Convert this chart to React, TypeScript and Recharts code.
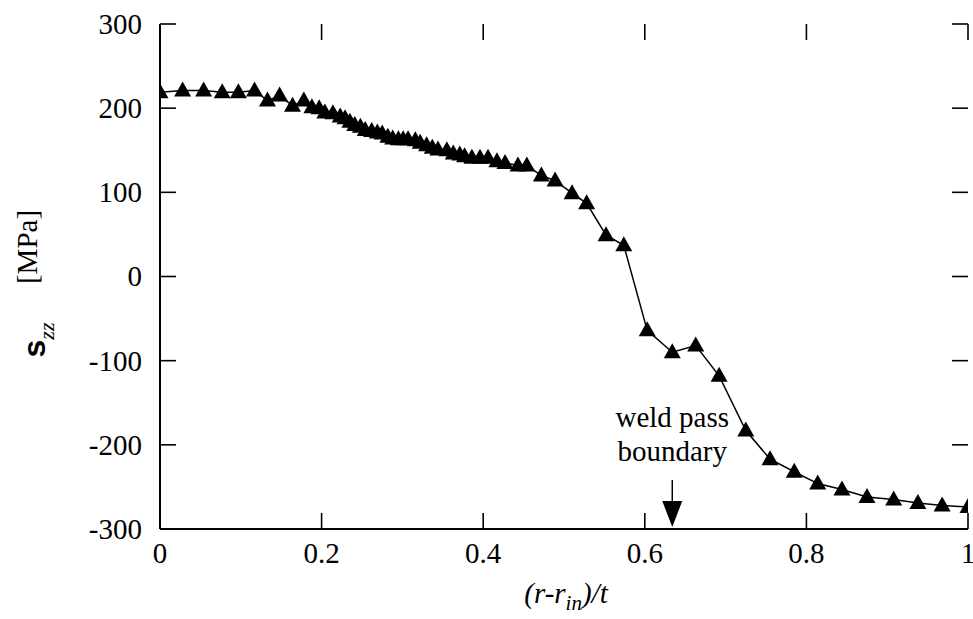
import React from "react";
import { LineChart, Line, XAxis, YAxis, ReferenceLine } from "recharts";

// radial position (r - r_in)/t
const xPos = [
  0.0, 0.028, 0.054, 0.077, 0.097, 0.117, 0.133, 0.148, 0.164, 0.178, 0.188, 0.197,
  0.204, 0.214, 0.223, 0.229, 0.235, 0.241, 0.248, 0.254, 0.262, 0.269, 0.275, 0.282,
  0.288, 0.295, 0.301, 0.307, 0.316, 0.322, 0.33, 0.337, 0.344, 0.355, 0.363, 0.371,
  0.377, 0.386, 0.396, 0.406, 0.417, 0.427, 0.443, 0.454, 0.472, 0.489, 0.51, 0.528,
  0.552, 0.574, 0.603, 0.634, 0.663, 0.692, 0.725, 0.755, 0.785, 0.814, 0.844, 0.875,
  0.908, 0.938, 0.968, 1.0,
];

// axial stress s_zz [MPa]
const szz = [
  219, 221, 221, 219, 219, 221, 209, 215, 203, 209, 201, 200,
  195, 194, 190, 188, 184, 180, 178, 174, 173, 171, 170, 166,
  164, 163, 163, 163, 162, 159, 156, 153, 151, 150, 146, 145,
  143, 141, 141, 141, 137, 135, 132, 132, 120, 114, 99, 87,
  49, 37, -64, -90, -82, -118, -183, -217, -232, -246, -253, -262,
  -265, -269, -272, -274,
];

const xTicks = [0, 0.2, 0.4, 0.6, 0.8, 1];
const yTicks = [-300, -200, -100, 0, 100, 200, 300];

const boundaryX = 0.634;

const data = xPos.map((x, i) => ({ x, y: szz[i] }));

const W = 973;
const H = 619;
const PLOT_L = 160;
const PLOT_R = 968;
const PLOT_T = 24;
const PLOT_B = 529;
const TICK = 16;
const SERIF = "'Liberation Serif', 'Times New Roman', serif";
const FS = 29;

// tick length converted into data units of each axis
const tickY = (TICK * 600) / (PLOT_B - PLOT_T);
const tickX = TICK / (PLOT_R - PLOT_L);

const px = (v: number) => PLOT_L + v * (PLOT_R - PLOT_L);

const Triangle = (props: any) => {
  const { cx, cy, index } = props;
  if (cx == null || cy == null) return <g key={`t-${index}`} />;
  return (
    <path
      key={`t-${index}`}
      d={`M${cx},${cy - 9} L${cx + 8.5},${cy + 6} L${cx - 8.5},${cy + 6} Z`}
      fill="#000"
    />
  );
};

const bottomTick = (props: any) => (
  <text
    key={`b-${props.index}`}
    x={props.x}
    y={props.y}
    dy="0.72em"
    textAnchor="middle"
    fontFamily={SERIF}
    fontSize={FS}
    fill="#000"
  >
    {props.payload.value}
  </text>
);

const leftTick = (props: any) => (
  <text
    key={`l-${props.index}`}
    x={props.x}
    y={props.y}
    dy="0.34em"
    textAnchor="end"
    fontFamily={SERIF}
    fontSize={FS}
    fill="#000"
  >
    {props.payload.value}
  </text>
);

export default function App() {
  const ax = px(boundaryX);
  return (
    <div style={{ position: "absolute", left: 0, top: 0, width: W, height: H, background: "#fff" }}>
      <LineChart width={W} height={H} data={data} margin={{ top: PLOT_T, right: W - PLOT_R, bottom: 0, left: 0 }}>
        <XAxis
          dataKey="x"
          type="number"
          domain={[0, 1]}
          ticks={xTicks}
          height={H - PLOT_B}
          tickSize={0}
          tickMargin={13}
          tickLine={false}
          tick={bottomTick}
          axisLine={{ stroke: "#000", strokeWidth: 2 }}
          interval={0}
          allowDataOverflow
        />
        <XAxis
          xAxisId="top"
          orientation="top"
          dataKey="x"
          type="number"
          domain={[0, 1]}
          ticks={xTicks}
          height={0}
          tick={false}
          tickLine={false}
          axisLine={{ stroke: "#000", strokeWidth: 2 }}
        />
        <YAxis
          type="number"
          domain={[-300, 300]}
          ticks={yTicks}
          width={PLOT_L}
          tickSize={0}
          tickMargin={18}
          tickLine={false}
          tick={leftTick}
          axisLine={{ stroke: "#000", strokeWidth: 2 }}
          interval={0}
          allowDataOverflow
        />
        <YAxis
          yAxisId="right"
          orientation="right"
          type="number"
          domain={[-300, 300]}
          ticks={yTicks}
          width={0}
          tick={false}
          tickLine={false}
          axisLine={{ stroke: "#000", strokeWidth: 2 }}
        />
        {/* inward tick marks on bottom/top */}
        {xTicks.map((t) => (
          <ReferenceLine
            key={`xb-${t}`}
            segment={[{ x: t, y: -300 }, { x: t, y: -300 + tickY }]}
            stroke="#000"
            strokeWidth={1.6}
            ifOverflow="visible"
          />
        ))}
        {xTicks.map((t) => (
          <ReferenceLine
            key={`xt-${t}`}
            segment={[{ x: t, y: 300 }, { x: t, y: 300 - tickY }]}
            stroke="#000"
            strokeWidth={1.6}
            ifOverflow="visible"
          />
        ))}
        {/* inward tick marks on left/right */}
        {yTicks.map((t) => (
          <ReferenceLine
            key={`yl-${t}`}
            segment={[{ x: 0, y: t }, { x: tickX, y: t }]}
            stroke="#000"
            strokeWidth={1.6}
            ifOverflow="visible"
          />
        ))}
        {yTicks.map((t) => (
          <ReferenceLine
            key={`yr-${t}`}
            segment={[{ x: 1 - tickX, y: t }, { x: 1, y: t }]}
            stroke="#000"
            strokeWidth={1.6}
            ifOverflow="visible"
          />
        ))}
        <Line
          xAxisId="top"
          yAxisId="right"
          dataKey="y"
          stroke="none"
          dot={false}
          activeDot={false}
          isAnimationActive={false}
        />
        <Line
          type="linear"
          dataKey="y"
          stroke="#000"
          strokeWidth={1.5}
          dot={<Triangle />}
          activeDot={false}
          isAnimationActive={false}
        />
      </LineChart>
      <svg
        width={W}
        height={H}
        style={{ position: "absolute", left: 0, top: 0, pointerEvents: "none", zIndex: 5 }}
      >
        {/* y axis title */}
        <text x={37} y={247} transform="rotate(-90 37 247)" textAnchor="middle" fontFamily={SERIF} fontSize={FS}>
          [MPa]
        </text>
        <text x={45} y={340} transform="rotate(-90 45 340)" textAnchor="middle">
          <tspan fontFamily="'Liberation Sans', Arial, sans-serif" fontWeight="bold" fontSize={32}>s</tspan>
          <tspan fontFamily={SERIF} fontStyle="italic" fontSize={22} dy={9}>zz</tspan>
        </text>
        {/* x axis title */}
        <text x={566} y={603} textAnchor="middle" fontFamily={SERIF} fontStyle="italic" fontSize={FS}>
          (r-r<tspan fontSize={21} dy={7}>in</tspan>
          <tspan dy={-7}>)/t</tspan>
        </text>
        {/* annotation */}
        <text x={ax} y={427} textAnchor="middle" fontFamily={SERIF} fontSize={FS}>weld pass</text>
        <text x={ax} y={461} textAnchor="middle" fontFamily={SERIF} fontSize={FS}>boundary</text>
        <line x1={ax} x2={ax} y1={480} y2={505} stroke="#000" strokeWidth={1.5} />
        <path d={`M${ax - 10},${501} L${ax + 10},${501} L${ax},${PLOT_B - 2} Z`} fill="#000" />
      </svg>
    </div>
  );
}
